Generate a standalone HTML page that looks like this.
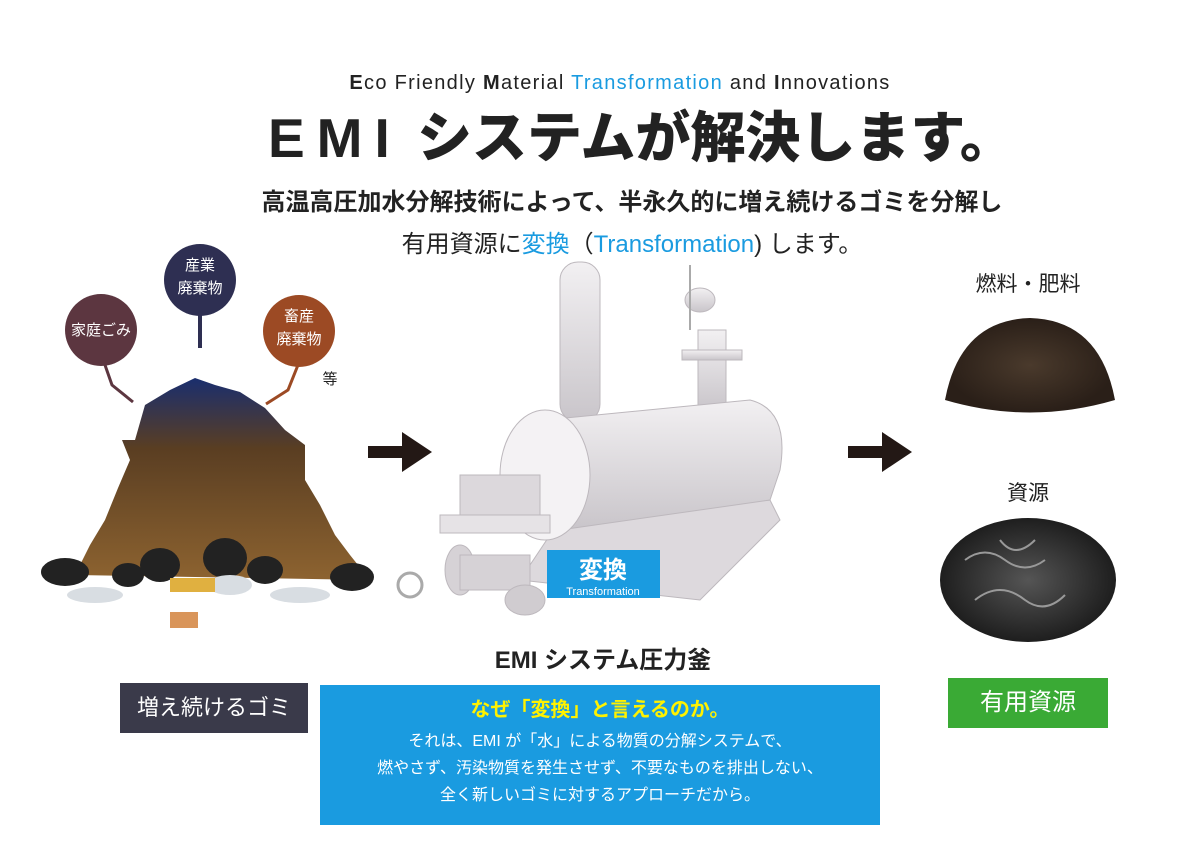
<!DOCTYPE html>
<html><head><meta charset="utf-8"><style>
body{margin:0;width:1200px;height:848px;background:#fff;position:relative;overflow:hidden;font-family:"Liberation Sans","Noto Sans CJK JP",sans-serif;color:#222}
.a{position:absolute;white-space:nowrap}
.c{transform:translateX(-50%)}
.b{color:#1a9be0}
</style></head><body>
<div class="a c" style="left:620px;top:72px;font-size:20px;letter-spacing:1.3px">
<b>E</b>co Friendly <b>M</b>aterial <span class="b">Transformation</span> and <b>I</b>nnovations</div>
<div class="a" style="left:268px;top:104px;font-size:55px;font-weight:900;letter-spacing:0px;line-height:68px"><span style="letter-spacing:12px">EMI</span> システムが解決します。</div>
<div class="a c" style="left:632px;top:182px;font-size:24px;font-weight:bold">高温高圧加水分解技術によって、半永久的に増え続けるゴミを分解し</div>
<div class="a c" style="left:632px;top:224px;font-size:24px">有用資源に<span class="b">変換</span>（<span class="b">Transformation</span>) します。</div>

<svg class="a" style="left:0;top:0" width="1200" height="848">
<defs>
<linearGradient id="pile" x1="0" y1="0" x2="0" y2="1">
<stop offset="0" stop-color="#1a2e6e"/><stop offset="0.35" stop-color="#5a3e22"/><stop offset="1" stop-color="#8d6330"/></linearGradient>
<linearGradient id="mg" x1="0" y1="0" x2="0" y2="1"><stop offset="0" stop-color="#f2f0f2"/><stop offset="1" stop-color="#c9c5ca"/></linearGradient>
<radialGradient id="soil"><stop offset="0" stop-color="#4a3a2c"/><stop offset="1" stop-color="#2a1f18"/></radialGradient>
<radialGradient id="metal"><stop offset="0" stop-color="#555"/><stop offset="1" stop-color="#1e1e1e"/></radialGradient>
</defs>
<path d="M105 365 L112 385 L133 402" stroke="#5c3640" stroke-width="3" fill="none"/>
<line x1="200" y1="310" x2="200" y2="348" stroke="#2e2f52" stroke-width="4"/>
<path d="M298 365 L288 390 L266 404" stroke="#9c4a24" stroke-width="3" fill="none"/>
<circle cx="101" cy="330" r="36" fill="#5c3640"/>
<circle cx="200" cy="280" r="36" fill="#2e2f52"/>
<circle cx="299" cy="331" r="36" fill="#9c4a24"/>
<path d="M75 575 L90 545 L105 520 L118 488 L130 460 L122 440 L135 440 L145 405 L170 390 L195 378 L215 385 L240 392 L265 408 L285 430 L305 445 L305 480 L320 505 L335 535 L350 555 L370 580 Z" fill="url(#pile)"/>
<g fill="#222"><ellipse cx="65" cy="572" rx="24" ry="14"/><ellipse cx="128" cy="575" rx="16" ry="12"/><ellipse cx="160" cy="565" rx="20" ry="17"/><ellipse cx="225" cy="558" rx="22" ry="20"/><ellipse cx="265" cy="570" rx="18" ry="14"/><ellipse cx="352" cy="577" rx="22" ry="14"/></g>
<g fill="#d8dde2"><ellipse cx="95" cy="595" rx="28" ry="8"/><ellipse cx="300" cy="595" rx="30" ry="8"/><ellipse cx="230" cy="585" rx="22" ry="10"/></g>
<rect x="170" y="578" width="45" height="14" fill="#e0b040"/>
<rect x="170" y="612" width="28" height="16" fill="#d9955a"/>
<text x="330" y="384" font-size="15" text-anchor="middle" fill="#222">等</text>
<path d="M368 446 H402 V432 L432 452 L402 472 V458 H368 Z" fill="#231815"/>
<path d="M848 446 H882 V432 L912 452 L882 472 V458 H848 Z" fill="#231815"/>
<g fill="url(#mg)" stroke="#bdb8bd" stroke-width="1">
<rect x="560" y="262" width="40" height="160" rx="18"/>
<rect x="698" y="330" width="28" height="80"/>
<rect x="682" y="350" width="60" height="10"/>
<ellipse cx="700" cy="300" rx="15" ry="12"/>
<path d="M520 580 L700 600 L780 520 L770 500 L560 520 Z" fill="#ddd9dd"/>
<path d="M545 420 L750 400 Q790 410 780 470 L770 500 L560 530 Q510 510 520 460 Z"/>
<ellipse cx="545" cy="475" rx="45" ry="65" fill="#f4f2f4"/>
<rect x="460" y="475" width="80" height="45" fill="#dcd8dc"/>
<rect x="440" y="515" width="110" height="18" fill="#e6e3e6"/>
<ellipse cx="460" cy="570" rx="15" ry="25" fill="#d6d2d6"/>
<rect x="460" y="555" width="70" height="35" fill="#d6d2d6"/>
<ellipse cx="525" cy="600" rx="20" ry="15" fill="#d0ccd0"/>
<circle cx="410" cy="585" r="12" fill="none" stroke="#aaa" stroke-width="3"/>
</g>
<line x1="690" y1="265" x2="690" y2="330" stroke="#aaa" stroke-width="2"/>
<rect x="547" y="550" width="113" height="48" fill="#1a9be0"/>
<text x="603" y="578" font-size="24" font-weight="bold" fill="#fff" text-anchor="middle">変換</text>
<text x="603" y="595" font-size="11" fill="#fff" text-anchor="middle">Transformation</text>
<path d="M945 400 Q960 320 1030 318 Q1100 320 1115 400 Q1030 425 945 400 Z" fill="url(#soil)"/>
<ellipse cx="1028" cy="580" rx="88" ry="62" fill="url(#metal)"/>
<g stroke="#999" stroke-width="2" fill="none"><path d="M965 560 q20 -15 40 0 q20 15 40 0"/><path d="M975 600 q25 -20 50 0 q20 15 40 -5"/><path d="M1000 540 q15 20 35 0"/></g>
</svg>

<div class="a c" style="left:101px;top:319px;font-size:15px;color:#fff">家庭ごみ</div>
<div class="a c" style="left:200px;top:254px;font-size:15px;color:#fff;text-align:center;line-height:23px">産業<br>廃棄物</div>
<div class="a c" style="left:299px;top:305px;font-size:15px;color:#fff;text-align:center;line-height:23px">畜産<br>廃棄物</div>

<div class="a c" style="left:603px;top:640px;font-size:24px;font-weight:bold">EMI システム圧力釜</div>
<div class="a" style="left:120px;top:683px;width:188px;height:50px;background:#3a3a4a;color:#fff;font-size:22px;line-height:50px;text-align:center">増え続けるゴミ</div>
<div class="a" style="left:320px;top:685px;width:560px;height:140px;background:#1a9be0;color:#fff;text-align:center">
<div style="color:#fff200;font-size:20px;font-weight:bold;margin-top:8px">なぜ「変換」と言えるのか。</div>
<div style="font-size:16px;line-height:27px;margin-top:6px">それは、EMI が「水」による物質の分解システムで、<br>燃やさず、汚染物質を発生させず、不要なものを排出しない、<br>全く新しいゴミに対するアプローチだから。</div></div>
<div class="a c" style="left:1028px;top:268px;font-size:21px">燃料・肥料</div>
<div class="a c" style="left:1028px;top:477px;font-size:21px">資源</div>
<div class="a" style="left:948px;top:678px;width:160px;height:50px;background:#3aaa35;color:#fff;font-size:24px;line-height:50px;text-align:center">有用資源</div>
</body></html>
